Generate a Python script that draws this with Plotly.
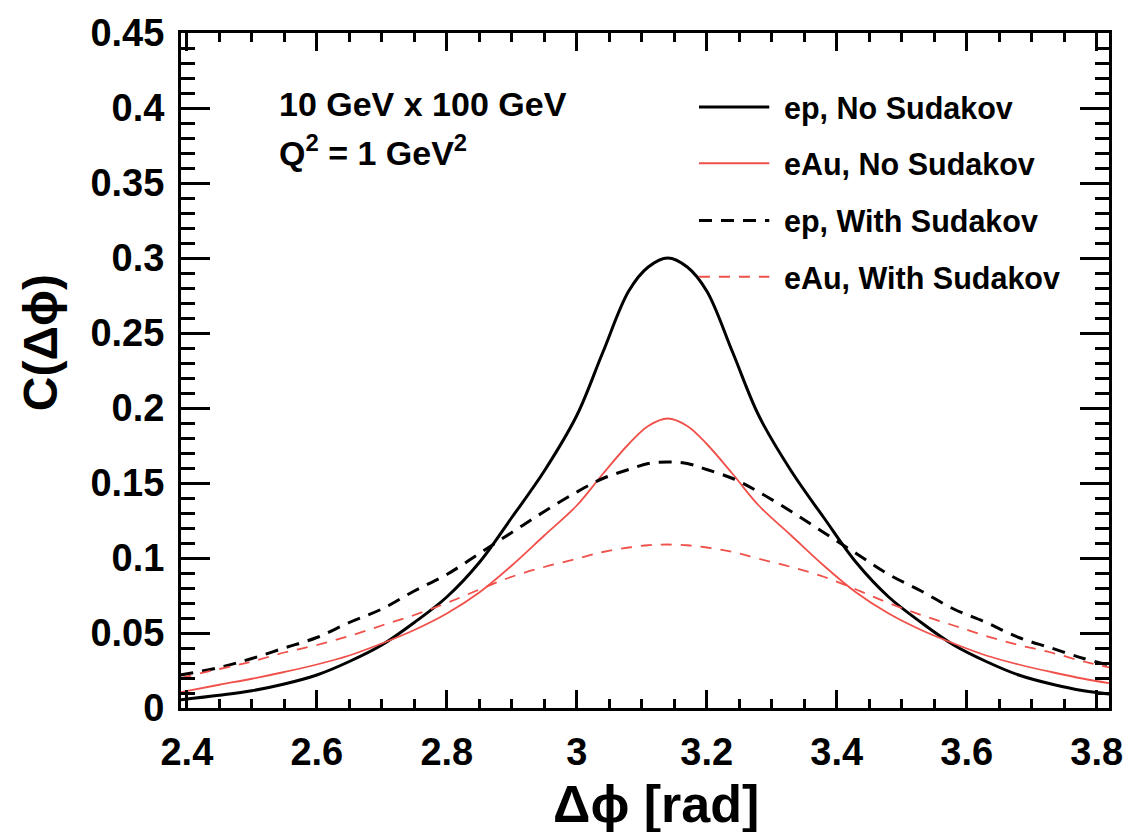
import plotly.graph_objects as go

# ---------------- data ----------------
dphi = [2.39, 2.45, 2.50, 2.55, 2.60, 2.65, 2.70, 2.75, 2.80, 2.85, 2.90, 2.95,
        3.00, 3.04, 3.08, 3.11, 3.14, 3.17, 3.20, 3.24, 3.28, 3.33, 3.38, 3.43,
        3.48, 3.53, 3.58, 3.63, 3.68, 3.73, 3.78, 3.82]

ep_no_sud = [0.0055, 0.0085, 0.0115, 0.016, 0.022, 0.031, 0.042, 0.057, 0.074, 0.097,
             0.127, 0.158, 0.195, 0.237, 0.278, 0.294, 0.300, 0.294, 0.278, 0.237,
             0.195, 0.158, 0.127, 0.097, 0.074, 0.057, 0.042, 0.031, 0.022, 0.016,
             0.0115, 0.0093]

eau_no_sud = [0.0105, 0.0155, 0.0195, 0.024, 0.029, 0.035, 0.043, 0.052, 0.063, 0.077,
              0.095, 0.115, 0.135, 0.156, 0.176, 0.188, 0.193, 0.188, 0.176, 0.156,
              0.135, 0.115, 0.095, 0.077, 0.063, 0.052, 0.043, 0.035, 0.029, 0.024,
              0.0195, 0.0165]

ep_with_sud = [0.022, 0.027, 0.033, 0.040, 0.047, 0.057, 0.066, 0.078, 0.089, 0.103,
               0.117, 0.131, 0.144, 0.153, 0.159, 0.163, 0.164, 0.163, 0.159, 0.153,
               0.144, 0.131, 0.117, 0.103, 0.089, 0.078, 0.066, 0.057, 0.047, 0.040,
               0.033, 0.0285]

eau_with_sud = [0.020, 0.026, 0.031, 0.037, 0.042, 0.048, 0.055, 0.062, 0.070, 0.079,
                0.0875, 0.094, 0.0995, 0.104, 0.107, 0.1085, 0.109, 0.1085, 0.107, 0.104,
                0.0995, 0.094, 0.0875, 0.079, 0.070, 0.062, 0.055, 0.048, 0.042, 0.037,
                0.031, 0.027]

x_tickvals = [2.4, 2.6, 2.8, 3.0, 3.2, 3.4, 3.6, 3.8]
x_ticktext = ["2.4", "2.6", "2.8", "3", "3.2", "3.4", "3.6", "3.8"]
y_tickvals = [0, 0.05, 0.1, 0.15, 0.2, 0.25, 0.3, 0.35, 0.4, 0.45]
y_ticktext = ["0", "0.05", "0.1", "0.15", "0.2", "0.25", "0.3", "0.35", "0.4", "0.45"]

series_names = ["ep, No Sudakov", "eAu, No Sudakov", "ep, With Sudakov", "eAu, With Sudakov"]
series_values = [ep_no_sud, eau_no_sud, ep_with_sud, eau_with_sud]

# ---------------- styles ----------------
RED = "#f0504a"
styles = [
    dict(color="black", width=3, dash="solid"),
    dict(color=RED, width=1.8, dash="solid"),
    dict(color="black", width=3, dash="13px,9px"),
    dict(color=RED, width=1.8, dash="11px,9px"),
]
FONT = "Liberation Sans, Arial, Helvetica, sans-serif"

fig = go.Figure()
for name, vals, st in zip(series_names, series_values, styles):
    fig.add_trace(go.Scatter(x=dphi, y=vals, mode="lines", name=name,
                             line=dict(color=st["color"], width=st["width"],
                                       dash=st["dash"], shape="spline", smoothing=1.0),
                             showlegend=False))

# plot-area geometry (pixels) for paper conversions
L, R, T, B = 181, 1118, 24, 708
W, H = 1135, 832
def px(x):
    return (x - L) / (R - L)
def py(y):
    return (B - y) / (B - T)

# manual legend (long sample lines as in the reference)
legend_y = [99, 156, 214, 271]
shapes = []
annotations = []
for name, st, yy in zip(series_names, styles, legend_y):
    shapes.append(dict(type="line", xref="paper", yref="paper",
                       x0=px(704), x1=px(775), y0=py(yy), y1=py(yy),
                       line=dict(color=st["color"], width=st["width"], dash=st["dash"])))
    annotations.append(dict(xref="paper", yref="paper", x=px(788), y=py(yy + 1),
                            xanchor="left", yanchor="middle", showarrow=False,
                            text=name, font=dict(family=FONT, size=30.5, color="black", weight="bold")))

annotations.append(dict(xref="paper", yref="paper", x=px(278), y=py(96),
                        xanchor="left", yanchor="middle", showarrow=False,
                        text="10 GeV x 100 GeV",
                        font=dict(family=FONT, size=34, color="black", weight="bold")))
annotations.append(dict(xref="paper", yref="paper", x=px(278), y=py(143),
                        xanchor="left", yanchor="middle", showarrow=False,
                        text="Q<sup>2</sup> = 1 GeV<sup>2</sup>",
                        font=dict(family=FONT, size=34, color="black", weight="bold")))
# axis titles
annotations.append(dict(xref="paper", yref="paper", x=px(661), y=py(805),
                        xanchor="center", yanchor="middle", showarrow=False,
                        text="Δϕ [rad]",
                        font=dict(family=FONT, size=52, color="black", weight="bold")))
annotations.append(dict(xref="paper", yref="paper", x=px(40), y=py(338),
                        xanchor="center", yanchor="middle", showarrow=False, textangle=-90,
                        text="C(Δϕ)",
                        font=dict(family=FONT, size=48, color="black", weight="bold")))

tickfont = dict(family=FONT, size=38, color="black", weight="bold")

fig.update_layout(
    width=W, height=H,
    margin=dict(l=L, r=W - R, t=T, b=H - B),
    paper_bgcolor="white", plot_bgcolor="white",
    shapes=shapes, annotations=annotations,
    xaxis=dict(range=[2.391, 3.819], tickvals=x_tickvals, ticktext=x_ticktext,
               ticks="inside", ticklen=18, tickwidth=2.5, tickcolor="black",
               showline=True, linecolor="black", linewidth=3, mirror="ticks",
               showgrid=False, zeroline=False, tickfont=tickfont, ticklabelstandoff=8,
               minor=dict(ticks="inside", ticklen=9, tickwidth=2.5, tickcolor="black",
                          dtick=0.05, tick0=2.4, showgrid=False)),
    yaxis=dict(range=[0, 0.45], tickvals=y_tickvals, ticktext=y_ticktext,
               ticks="inside", ticklen=29, tickwidth=2.5, tickcolor="black",
               showline=True, linecolor="black", linewidth=3, mirror="ticks",
               showgrid=False, zeroline=False, tickfont=tickfont, ticklabelstandoff=6,
               minor=dict(ticks="inside", ticklen=14, tickwidth=2.5, tickcolor="black",
                          dtick=0.01, tick0=0, showgrid=False)),
)

fig.write_html("out.html")
